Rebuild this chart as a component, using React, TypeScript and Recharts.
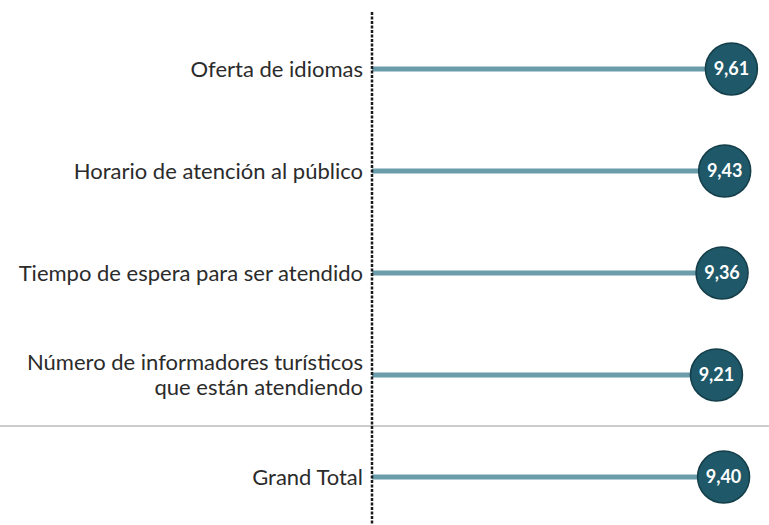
import { BarChart, Bar, XAxis, YAxis, LabelList } from "recharts";

const categories = [
  "Oferta de idiomas",
  "Horario de atención al público",
  "Tiempo de espera para ser atendido",
  "Número de informadores turísticos\nque están atendiendo",
  "Grand Total",
];
const scores = [9.61, 9.43, 9.36, 9.21, 9.4];
const TOTAL = "Grand Total";

const data = categories.map((name, i) => ({ name, score: scores[i] }));

const TEXT = "#2b2b2b";
const STEM = "#6a9cab";
const DOT = "#1f5868";
const DOT_EDGE = "#143e49";
const FONT = "Lato, 'Noto Sans', sans-serif";
const W = 769;

const fmt = (v: number) => v.toFixed(2).replace(".", ",");

function CategoryTick(props: any) {
  const { x, y, payload } = props;
  const lines = String(payload.value).split("\n");
  const lh = 25;
  const start = y - ((lines.length - 1) * lh) / 2;
  return (
    <text x={x} y={start} textAnchor="end" fill={TEXT} fontSize={22} fontFamily={FONT}>
      {lines.map((l, i) => (
        <tspan key={i} x={x} y={start + i * lh} dy="0.35em">
          {l}
        </tspan>
      ))}
    </text>
  );
}

// each bar fills its whole row band: draw a thin stem through the middle,
// and a full-width rule along the top of the total row
function StemShape(props: any) {
  const { x, y, width, height, payload } = props;
  const mid = y + height / 2;
  return (
    <g>
      {payload.name === TOTAL && (
        <line x1={0} x2={W} y1={y} y2={y} stroke="#9c9c9c" strokeWidth={1.2} />
      )}
      <rect x={x} y={mid - 2.5} width={width} height={5} fill={STEM} />
    </g>
  );
}

function ScoreBubble(props: any) {
  const { x, y, width, height, value } = props;
  const cx = x + width;
  const cy = y + height / 2;
  return (
    <g>
      <circle cx={cx} cy={cy} r={26} fill={DOT} stroke={DOT_EDGE} strokeWidth={1.5} />
      <text
        x={cx}
        y={cy}
        dy="0.36em"
        textAnchor="middle"
        fill="#ffffff"
        fontSize={18}
        fontWeight={700}
        fontFamily={FONT}
      >
        {fmt(value)}
      </text>
    </g>
  );
}

export default function App() {
  return (
    <div style={{ position: "absolute", left: 0, top: 0, width: W, height: 525, overflow: "hidden", background: "#fff" }}>
      <BarChart
        width={W}
        height={528}
        data={data}
        layout="vertical"
        margin={{ top: 12, right: 23, bottom: 0, left: 0 }}
        barCategoryGap={0}
      >
        <XAxis type="number" domain={[0, 10]} hide />
        <YAxis
          type="category"
          dataKey="name"
          width={372}
          padding={{ top: 6, bottom: 0 }}
          tickLine={false}
          tickMargin={3}
          axisLine={{ stroke: "#1a1a1a", strokeWidth: 2.5, strokeDasharray: "3 1.5" }}
          tick={<CategoryTick />}
          interval={0}
        />
        <Bar dataKey="score" shape={<StemShape />} isAnimationActive={false}>
          <LabelList dataKey="score" content={<ScoreBubble />} />
        </Bar>
      </BarChart>
    </div>
  );
}
